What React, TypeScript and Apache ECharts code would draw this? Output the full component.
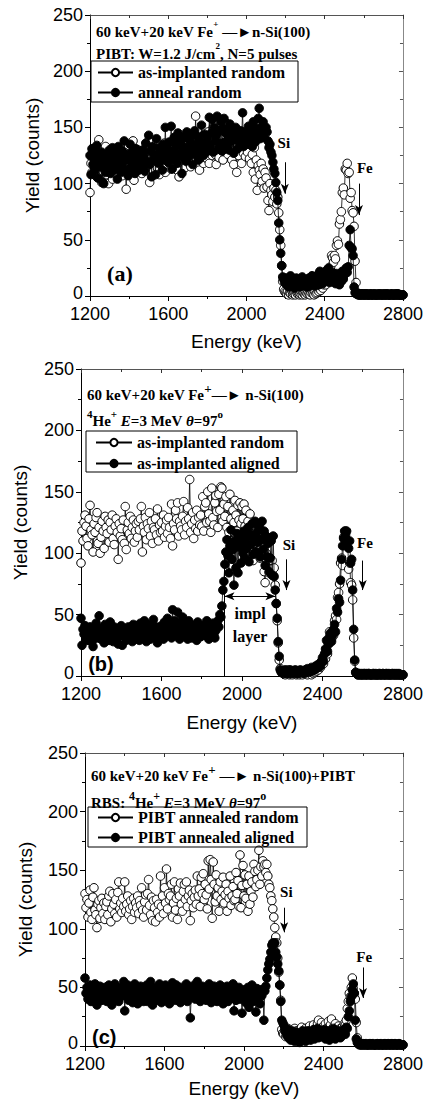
import React, { useEffect, useRef } from 'react';
import * as echarts from 'echarts';

// Channel energies: first channel and step (keV)
const E_START = 1200;
const E_STEP = 5;

// Tick ranges
const xRange = { min: 1200, max: 2800, interval: 400 };
const yRange = { min: 0, max: 250, interval: 50 };

// Series values (yield, counts), one value per channel from 1200 keV, 5 keV step
const asImplantedRandom = [
  92,118,110,125,131,122,112,106,128,139,119,115,101,124,117,129,133,108,121,100,
  113,126,118,104,130,121,116,127,109,125,119,131,112,107,122,128,117,95,124,114,
  120,111,127,108,138,103,119,125,116,130,112,121,127,109,118,124,113,126,119,128,
  138,101,122,117,129,111,124,120,133,114,126,108,121,119,128,115,136,110,123,117,
  125,118,131,113,122,127,116,129,121,112,140,106,124,119,135,128,141,114,126,122,
  119,130,142,115,126,121,137,128,160,117,124,133,112,127,120,135,118,129,123,131,
  122,146,118,138,141,125,150,132,126,117,153,129,123,141,147,134,121,148,135,154,
  153,126,140,130,146,121,138,117,148,128,110,135,125,143,131,118,139,127,141,124,
  138,128,140,122,135,118,126,110,132,104,121,94,116,112,108,118,102,113,96,110,
  105,97,85,76,100,94,90,84,96,88,94,82,88,74,59,45,27,13,6,4,
  3,2,4,1,3,2,5,1,2,3,1,4,2,3,1,2,4,1,3,2,
  1,3,2,4,2,1,3,5,2,1,4,2,3,5,4,6,5,8,7,10,
  12,10,16,14,22,18,26,36,34,30,36,33,45,49,46,64,68,75,92,96,
  90,113,112,118,109,110,87,92,76,74,62,31,12,3,2,1,1,2,1,1,
  1,1,2,1,1,1,2,1,1,1,1,2,1,1,1,1,2,1,1,1,
  2,1,1,1,2,1,1,1,1,2,1,1,1,1,2,1,1,1,1,1,
  1,
];

const annealRandom = [
  125,108,131,117,122,112,128,134,105,119,124,115,128,101,100,121,110,126,118,113,
  130,109,123,132,118,112,127,121,104,133,116,125,110,129,120,138,113,122,126,107,
  121,135,114,128,117,126,109,131,119,124,112,127,122,116,130,125,111,136,120,118,
  143,117,129,106,133,121,126,108,140,125,118,132,122,128,112,135,121,150,124,131,
  119,137,126,151,113,129,141,122,134,118,145,127,138,124,109,133,141,128,120,146,
  132,124,139,143,128,117,135,147,126,131,142,121,138,129,152,133,125,144,136,128,
  141,130,159,134,145,157,128,150,138,143,160,131,147,136,155,129,149,158,137,145,
  134,148,130,153,141,138,149,127,145,150,139,131,143,136,147,140,163,133,146,138,
  142,135,151,138,147,140,133,155,144,137,149,145,158,167,140,150,146,155,141,148,
  150,146,138,132,135,128,125,119,113,109,101,92,85,65,50,38,27,17,15,12,
  16,10,14,8,12,18,9,13,15,7,11,16,10,14,8,13,11,17,9,12,
  14,10,8,13,16,9,12,18,11,15,9,14,12,19,10,22,13,16,11,20,
  18,14,23,16,25,12,19,15,21,13,17,11,20,14,16,10,18,13,22,15,
  19,23,25,21,26,45,59,43,42,36,8,3,2,2,1,2,1,1,2,1,
  2,1,1,2,1,1,1,2,1,1,2,1,1,1,2,1,1,2,1,1,
  1,2,1,1,2,1,1,1,2,1,1,1,2,1,1,2,1,1,1,1,
  1,
];

const asImplantedAligned = [
  47,25,38,34,41,30,36,29,33,40,35,28,24,37,32,43,31,36,49,34,
  30,39,33,27,42,35,31,38,29,44,34,36,28,40,33,37,31,26,35,39,
  41,25,36,32,38,29,34,40,31,37,33,28,42,35,30,38,32,36,29,43,
  34,39,31,45,33,28,37,42,35,30,39,33,46,36,31,40,27,35,38,32,
  41,36,30,44,38,33,47,39,35,42,31,54,37,45,40,34,52,38,30,43,
  36,48,33,41,35,39,30,45,37,42,31,36,40,33,38,29,44,35,39,32,
  37,41,34,39,33,45,36,30,40,35,38,43,34,31,37,42,45,40,50,48,
  57,70,77,91,101,111,98,84,106,119,95,103,74,110,88,116,84,105,114,92,
  108,100,118,96,112,104,121,93,115,107,124,99,113,126,101,117,109,122,97,111,
  126,103,118,90,114,97,108,85,96,110,82,114,81,70,59,47,28,16,5,3,
  4,2,3,5,2,4,3,2,5,3,2,4,3,5,2,3,4,2,5,3,
  3,4,2,5,3,6,4,3,5,7,4,6,5,8,6,9,7,10,8,12,
  15,12,18,22,29,20,26,32,35,28,33,38,42,36,55,52,63,60,78,95,
  106,112,118,115,118,110,104,110,92,95,70,38,13,3,2,1,2,1,1,2,
  1,2,1,1,2,1,2,1,1,1,2,1,1,2,1,1,1,2,1,1,
  2,1,1,2,1,1,2,1,1,1,2,1,2,1,1,1,2,1,1,1,
  1,
];

const pibtAnnealedRandom = [
  130,118,125,110,122,133,114,108,127,135,116,112,101,121,124,109,118,126,113,122,
  108,119,123,112,128,132,106,117,130,121,113,125,110,131,140,117,122,114,126,119,
  140,115,121,128,112,117,124,108,119,126,114,122,118,128,113,124,120,135,116,110,
  123,129,116,130,142,120,112,127,107,124,118,106,125,114,121,110,145,119,128,113,
  135,122,151,117,130,125,128,138,110,122,140,116,126,108,134,128,139,121,115,132,
  138,125,140,119,128,133,107,124,130,118,127,133,121,145,128,134,119,144,130,147,
  125,138,129,117,158,134,159,142,109,157,138,123,146,128,135,115,140,125,132,144,
  122,129,138,115,132,126,145,120,128,136,124,125,148,130,141,119,163,118,137,154,
  128,146,126,138,115,145,121,132,140,127,155,149,136,142,150,167,138,153,145,158,
  153,155,148,155,145,138,135,128,124,117,110,101,93,88,75,63,52,39,14,11,
  10,13,8,12,15,9,11,14,7,12,10,15,8,13,11,9,14,12,16,10,
  12,8,15,11,9,13,17,10,14,12,18,11,15,13,19,22,16,14,20,12,
  17,13,19,15,12,21,14,18,23,13,16,11,19,14,12,17,13,15,11,16,
  14,19,18,22,32,38,45,42,50,58,49,45,40,20,7,2,2,1,1,2,
  1,1,2,1,1,1,2,1,1,2,1,1,1,1,2,1,1,1,2,1,
  1,2,1,1,1,2,1,1,2,1,1,1,2,1,1,1,2,1,1,1,
  1,
];

const pibtAnnealedAligned = [
  58,45,50,40,47,52,38,44,49,42,53,46,35,48,41,51,45,39,47,43,
  50,44,38,47,52,41,46,35,49,43,53,40,47,45,38,50,42,48,44,55,
  30,48,43,52,39,46,41,50,37,45,53,42,48,36,47,44,51,40,46,38,
  49,43,52,38,46,41,55,44,35,48,42,50,39,47,45,53,41,37,49,44,
  46,52,40,48,43,36,50,45,54,41,47,39,52,44,48,42,37,50,45,43,
  47,41,53,38,46,50,24,44,48,42,52,40,46,55,43,49,38,45,51,41,
  44,50,39,47,42,53,45,37,48,43,51,40,46,38,49,44,52,41,47,36,
  45,49,42,51,38,46,44,48,41,53,30,45,39,47,43,50,40,46,28,44,
  42,48,37,45,50,33,46,40,52,38,44,47,29,49,41,45,36,48,43,47,
  22,47,51,58,65,70,74,80,86,88,87,88,80,76,70,64,52,38,22,20,
  18,15,12,9,14,7,11,5,13,8,10,4,12,9,6,11,3,10,7,13,
  6,11,4,9,13,7,10,5,12,8,14,6,11,9,15,7,10,13,8,12,
  9,14,6,11,8,13,5,10,12,7,15,9,6,11,8,13,10,7,12,9,
  11,14,10,16,15,25,30,38,42,48,53,45,22,6,3,2,1,2,1,1,
  2,1,1,2,1,1,1,2,1,1,2,1,1,1,2,1,1,2,1,1,
  1,1,2,1,1,2,1,1,1,2,1,1,2,1,1,1,2,1,1,1,
  1,
];

// Legend names
const namesA = ['as-implanted random', 'anneal random'];
const namesB = ['as-implanted random', 'as-implanted aligned'];
const namesC = ['PIBT annealed random', 'PIBT annealed aligned'];

// Annotation anchors in data coordinates: [energy, yield, text]
const labelsA: [number, number, string][] = [[2191, 136, 'Si'], [2605, 114, 'Fe'], [1353, 20, '(a)']];
const labelsB: [number, number, string][] = [[2233, 107, 'Si'], [2611, 108, 'Fe'], [2040, 51, 'impl'], [2040, 32, 'layer'], [1299, 10, '(b)']];
const labelsC: [number, number, string][] = [[2213, 131, 'Si'], [2605, 76, 'Fe'], [1297, 8, '(c)']];
const arrowsA = [[2196, 119, 91], [2575, 100, 72]];
const arrowsB = [[2221, 95, 70], [2600, 94, 70]];
const arrowsC = [[2202, 118, 97], [2599, 67, 41]];
const implLayer = { start: 1913, end: 2166, level: 65, top: 100 };

const SANS = 'Liberation Sans';
const SERIF = 'Liberation Serif';

function toPoints(vals: number[]) {
  return vals.map((v, i) => [E_START + E_STEP * i, v]);
}

const grids = [
  { left: 90, top: 15, width: 313, height: 281 },
  { left: 81, top: 369, width: 338, height: 307 },
  { left: 85, top: 753, width: 329, height: 293 },
];
const xNameGap = [36, 37, 33];
const yNameGap = [47, 51, 50];

const rich = (supSize: number) => ({
  m: { fontFamily: SERIF, fontWeight: 'bold', fontSize: 15, lineHeight: 20, verticalAlign: 'bottom', fill: '#000' },
  i: { fontFamily: SERIF, fontWeight: 'bold', fontStyle: 'italic', fontSize: 15, lineHeight: 20, verticalAlign: 'bottom', fill: '#000' },
  s: { fontFamily: SERIF, fontWeight: 'bold', fontSize: supSize, lineHeight: supSize, verticalAlign: 'top', fill: '#000' },
});
const txt = (x: number, y: number, text: string, supSize: number) => ({
  type: 'text', x, y, silent: true, z: 10,
  style: { text, rich: rich(supSize), verticalAlign: 'middle', align: 'left', fill: '#000', fontFamily: SERIF, fontSize: 15, fontWeight: 'bold' },
});
const box = (x: number, y: number, w: number, h: number) => ({
  type: 'rect', shape: { x, y, width: w, height: h }, silent: true, z: 10,
  style: { fill: 'none', stroke: '#000', lineWidth: 1 },
});

const baseGraphic = [
  txt(96, 29, '{m|60 keV+20 keV Fe}{s|+}{m| \u2014\u25BAn-Si(100)}', 9),
  txt(96, 51, '{m|PIBT: W=1.2 J/cm}{s|2}{m|, N=5 pulses}', 9),
  box(91, 61, 207, 41),
  txt(87, 392, '{m|60 keV+20 keV Fe}{s|+}{m|\u2014\u25BA n-Si(100)}', 13),
  txt(87, 418, '{s|4}{m|He}{s|+}{m| }{i|E}{m|=3 MeV }{i|\u03B8}{m|=97}{s|o}', 11),
  box(86, 431, 211, 41),
  txt(91, 773, '{m|60 keV+20 keV Fe}{s|+}{m| \u2014\u25BA n-Si(100)+PIBT}', 13),
  txt(91, 800, '{m|RBS: }{s|4}{m|He}{s|+}{m| }{i|E}{m|=3 MeV }{i|\u03B8}{m|=97}{s|o}', 12),
  box(88, 807, 219, 40),
];

function labelStyle(t: string) {
  if (t === '(a)') return { fontFamily: SERIF, fontSize: 22 };
  if (t.startsWith('(')) return { fontFamily: SANS, fontSize: 20 };
  if (t === 'Si' || t === 'Fe') return { fontFamily: SERIF, fontSize: 15 };
  return { fontFamily: SERIF, fontSize: 16 };
}

function buildOption() {
  const xAxis: any[] = [];
  const yAxis: any[] = [];
  grids.forEach((_, i) => {
    xAxis.push({
      type: 'value', gridIndex: i, position: 'bottom', ...xRange,
      axisLine: { show: true, lineStyle: { color: '#000', width: 1 } },
      axisTick: { show: true, inside: false, length: 5, lineStyle: { color: '#000' } },
      minorTick: { show: true, splitNumber: 2, length: 3, lineStyle: { color: '#000' } },
      splitLine: { show: false },
      axisLabel: { fontFamily: SANS, fontSize: 18, lineHeight: 15, color: '#000', margin: 10, formatter: (v: number) => String(v) },
      name: 'Energy (keV)', nameLocation: 'middle', nameGap: xNameGap[i],
      nameTextStyle: { fontFamily: SANS, fontSize: 19, color: '#000' },
    });
    yAxis.push({
      type: 'value', gridIndex: i, position: 'left', ...yRange,
      axisLine: { show: true, lineStyle: { color: '#000', width: 1 } },
      axisTick: { show: true, inside: false, length: 5, lineStyle: { color: '#000' } },
      minorTick: { show: true, splitNumber: 2, length: 3, lineStyle: { color: '#000' } },
      splitLine: { show: false },
      axisLabel: {
        fontFamily: SANS, fontSize: 18, lineHeight: 13, color: '#000', margin: 7,
        formatter: (v: number) => (v === 0 ? '{z|0}' : String(v)),
        rich: { z: { fontFamily: SANS, fontSize: 18, lineHeight: 13, padding: [0, 0, 7, 0], color: '#000' } },
      },
      name: 'Yield (counts)', nameLocation: 'middle', nameGap: yNameGap[i], nameRotate: 90,
      nameTextStyle: { fontFamily: SANS, fontSize: 19, color: '#000' },
    });
  });
  grids.forEach((_, i) => {
    xAxis.push({
      type: 'value', gridIndex: i, position: 'top', ...xRange,
      axisLine: { show: true, onZero: false, lineStyle: { color: '#555', width: 1 } },
      axisTick: { show: true, inside: true, length: 4, lineStyle: { color: '#333' } },
      minorTick: { show: true, splitNumber: 2, length: 3, lineStyle: { color: '#333' } },
      splitLine: { show: false }, axisLabel: { show: false },
    });
    yAxis.push({
      type: 'value', gridIndex: i, position: 'right', ...yRange,
      axisLine: { show: true, onZero: false, lineStyle: { color: '#888', width: 1 } },
      axisTick: { show: true, inside: true, length: 4, lineStyle: { color: '#555' } },
      minorTick: { show: true, splitNumber: 2, length: 3, lineStyle: { color: '#555' } },
      splitLine: { show: false }, axisLabel: { show: false },
    });
  });

  const dataSeries = (name: string, vals: number[], i: number, filled: boolean) => ({
    type: 'line', name, xAxisIndex: i, yAxisIndex: i,
    data: toPoints(vals),
    symbol: 'circle', symbolSize: 8.5, showAllSymbol: true,
    lineStyle: { color: '#000', width: 0.8 },
    itemStyle: filled
      ? { color: '#000', borderColor: '#000', borderWidth: 1 }
      : { color: '#fff', borderColor: '#000', borderWidth: 1 },
    emphasis: { disabled: true },
    z: filled ? 3 : 2,
  });

  const arrowLines = (arrows: number[][]) =>
    arrows.map((a) => [
      { coord: [a[0], a[1]], symbol: 'none' },
      { coord: [a[0], a[2]], symbol: 'arrow' },
    ]);

  const annotSeries = (i: number, lines: any[]) => ({
    type: 'line', xAxisIndex: i, yAxisIndex: i, data: [], silent: true,
    markLine: {
      silent: true, symbolSize: [6, 10], animation: false,
      lineStyle: { color: '#000', width: 1, type: 'solid' },
      label: { show: false }, emphasis: { disabled: true },
      data: lines,
    },
    z: 5,
  });

  const implLines = [
    [{ coord: [implLayer.start, 0], symbol: 'none' }, { coord: [implLayer.start, implLayer.top], symbol: 'none' }],
    [{ coord: [implLayer.start, implLayer.level], symbol: 'arrow' }, { coord: [implLayer.end, implLayer.level], symbol: 'arrow' }],
  ];

  const series = [
    dataSeries(namesA[0], asImplantedRandom, 0, false),
    dataSeries(namesA[1], annealRandom, 0, true),
    dataSeries(namesB[0], asImplantedRandom, 1, false),
    dataSeries(namesB[1], asImplantedAligned, 1, true),
    dataSeries(namesC[0], pibtAnnealedRandom, 2, false),
    dataSeries(namesC[1], pibtAnnealedAligned, 2, true),
    annotSeries(0, arrowLines(arrowsA)),
    annotSeries(1, [...arrowLines(arrowsB), ...implLines]),
    annotSeries(2, arrowLines(arrowsC)),
  ];

  const legendBase = {
    orient: 'vertical', itemWidth: 35, itemHeight: 9, itemGap: 3, padding: 0,
    selectedMode: false,
    textStyle: { fontFamily: SERIF, fontWeight: 'bold', fontSize: 16, color: '#000', lineHeight: 17 },
  };
  const legend = [
    { ...legendBase, left: 97, top: 64, data: namesA },
    { ...legendBase, left: 95, top: 434, itemWidth: 36, itemGap: 4, data: namesB },
    { ...legendBase, left: 97, top: 809, data: namesC },
  ];

  return {
    animation: false,
    backgroundColor: '#fff',
    grid: grids.map((g) => ({ ...g, containLabel: false })),
    xAxis, yAxis, series, legend, graphic: baseGraphic,
  };
}

export default function App() {
  const ref = useRef<HTMLDivElement>(null);
  useEffect(() => {
    if (!ref.current) return;
    const chart = echarts.init(ref.current, null, { renderer: 'svg' });
    chart.setOption(buildOption() as any);
    const extra: any[] = [];
    [labelsA, labelsB, labelsC].forEach((labels, gi) => {
      labels.forEach(([x, y, t]) => {
        const p = chart.convertToPixel({ gridIndex: gi } as any, [x, y]) as number[];
        const st = labelStyle(t);
        extra.push({
          type: 'text', x: p[0], y: p[1], silent: true, z: 10,
          style: { text: t, fill: '#000', fontWeight: 'bold', fontFamily: st.fontFamily, fontSize: st.fontSize, align: 'center', verticalAlign: 'middle' },
        });
      });
    });
    chart.setOption({ graphic: [...baseGraphic, ...extra] } as any);
    return () => chart.dispose();
  }, []);
  return (
    <div
      ref={ref}
      style={{ position: 'absolute', left: 0, top: 0, width: 426, height: 1104, background: '#fff' }}
    />
  );
}
